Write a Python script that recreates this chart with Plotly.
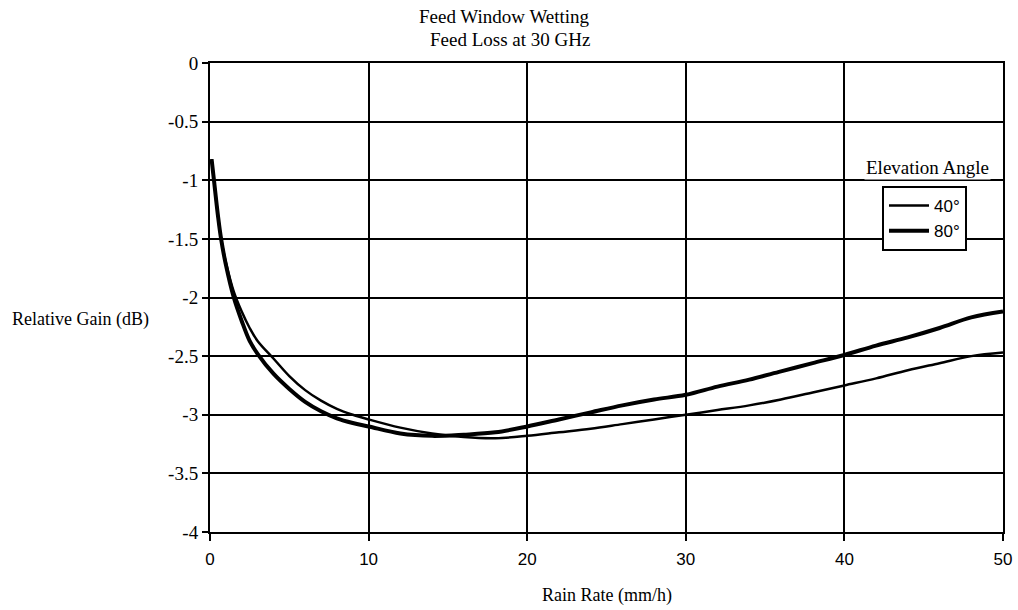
import plotly.graph_objects as go

# Rain rate samples (mm/h)
rain_rate = [0.1, 0.25, 0.5, 0.7, 1.0, 1.5, 2, 2.5, 3, 4, 5, 6, 7, 8, 9, 10,
             12, 14, 16, 18, 20, 22, 24, 26, 28, 30, 32, 34, 36, 38, 40,
             42, 44, 46, 48, 50]

# Relative gain (dB) for each elevation angle
gain_40 = [-0.82, -1.0, -1.3, -1.5, -1.7, -1.95, -2.12, -2.26, -2.37, -2.52,
           -2.67, -2.79, -2.88, -2.95, -3.0, -3.04, -3.11, -3.16, -3.19, -3.2,
           -3.18, -3.15, -3.12, -3.08, -3.04, -3.0, -2.96, -2.92, -2.87, -2.81,
           -2.75, -2.69, -2.62, -2.56, -2.5, -2.47]
gain_80 = [-0.82, -1.0, -1.3, -1.5, -1.72, -2.0, -2.2, -2.37, -2.48, -2.65,
           -2.78, -2.89, -2.97, -3.03, -3.07, -3.1, -3.16, -3.18, -3.17, -3.15,
           -3.1, -3.04, -2.98, -2.92, -2.87, -2.83, -2.76, -2.7, -2.63, -2.56,
           -2.49, -2.41, -2.34, -2.26, -2.17, -2.12]

x_ticks = [0, 10, 20, 30, 40, 50]
y_ticks = [0, -0.5, -1, -1.5, -2, -2.5, -3, -3.5, -4]
y_tick_text = ["0", "-0.5", "-1", "-1.5", "-2", "-2.5", "-3", "-3.5", "-4"]

serif = "Liberation Serif, Times New Roman, serif"
sans = "Liberation Sans, Arial, sans-serif"

# plot area in pixels
L, R, T, B = 210, 15, 63, 78
W, H = 1018, 610
PW, PH = W - L - R, H - T - B


def px(x):
    return (x - L) / PW


def py(y):
    return (H - B - y) / PH


fig = go.Figure()
fig.add_trace(go.Scatter(x=rain_rate, y=gain_40, mode="lines", name="40°",
                         line=dict(color="black", width=2.5, shape="spline")))
fig.add_trace(go.Scatter(x=rain_rate, y=gain_80, mode="lines", name="80°",
                         line=dict(color="black", width=4, shape="spline")))

fig.update_layout(
    width=W, height=H,
    margin=dict(l=L, r=R, t=T, b=B, autoexpand=False),
    paper_bgcolor="white", plot_bgcolor="white",
    font=dict(family=serif, size=17, color="black"),
    showlegend=True,
    legend=dict(x=px(882), y=py(186), xanchor="left", yanchor="top",
                bgcolor="white", bordercolor="black", borderwidth=2,
                font=dict(family=sans, size=17),
                tracegroupgap=0, itemwidth=40),
    xaxis=dict(range=[0, 50], tickvals=x_ticks, ticks="outside", ticklen=7,
               tickwidth=2, tickcolor="black", showgrid=True,
               gridcolor="black", gridwidth=2, showline=True,
               linecolor="black", linewidth=2, mirror=True, zeroline=False,
               automargin=False, ticklabelstandoff=4,
               tickfont=dict(family=sans, size=17)),
    yaxis=dict(range=[-4, 0], tickvals=y_ticks, ticktext=y_tick_text,
               ticks="outside", ticklen=6, tickwidth=2, tickcolor="black",
               showgrid=True, gridcolor="black", gridwidth=2,
               showline=True, linecolor="black", linewidth=2, mirror=True,
               zeroline=False, automargin=False,
               tickfont=dict(family=serif, size=19)),
    annotations=[
        dict(text="Feed Window Wetting", xref="paper", yref="paper",
             x=px(417), y=py(16), xanchor="left", yanchor="middle",
             showarrow=False, font=dict(family=serif, size=19)),
        dict(text="Feed Loss at 30 GHz", xref="paper", yref="paper",
             x=px(428), y=py(40), xanchor="left", yanchor="middle",
             showarrow=False, font=dict(family=serif, size=19)),
        dict(text="Relative Gain (dB)", xref="paper", yref="paper",
             x=px(10), y=py(320), xanchor="left", yanchor="middle",
             showarrow=False, font=dict(family=serif, size=18)),
        dict(text="Rain Rate (mm/h)", xref="paper", yref="paper",
             x=px(607), y=py(595), xanchor="center", yanchor="middle",
             showarrow=False, font=dict(family=serif, size=18)),
        dict(text="Elevation Angle", xref="paper", yref="paper",
             x=px(927), y=py(167), xanchor="center", yanchor="middle",
             showarrow=False, bgcolor="white",
             font=dict(family=serif, size=19)),
    ],
)

fig.write_html("out.html")
